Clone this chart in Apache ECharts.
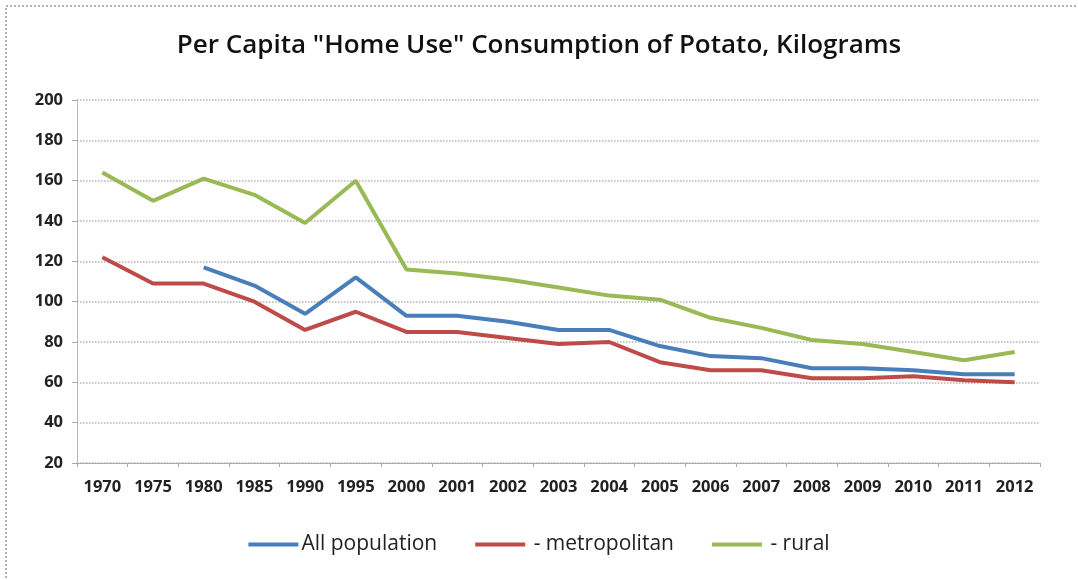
<!DOCTYPE html>
<html><head><meta charset="utf-8">
<script src="https://cdn.jsdelivr.net/npm/echarts@6/dist/echarts.min.js"></script>
<style>html,body{margin:0;padding:0;background:#fff}#c{width:1078px;height:580px}</style>
</head><body><div id="c"></div>
<script>
const years = ['1970','1975','1980','1985','1990','1995','2000','2001','2002','2003','2004','2005','2006','2007','2008','2009','2010','2011','2012'];
const allPopulation = [null,null,117,108,94,112,93,93,90,86,86,78,73,72,67,67,66,64,64];
const metropolitan = [122,109,109,100,86,95,85,85,82,79,80,70,66,66,62,62,63,61,60];
const rural = [164,150,161,153,139,160,116,114,111,107,103,101,92,87,81,79,75,71,75];
const seriesNames = ['All population',' - metropolitan',' - rural'];
const colors = ['#4a7ebb','#be4b48','#98b954'];

const chart = echarts.init(document.getElementById('c'), null, {renderer:'canvas'});
const mk = (name, data, color) => ({
  name, type:'line', data, symbol:'none', connectNulls:false,
  lineStyle:{width:4,color}, itemStyle:{color}
});
chart.setOption({
  animation:false,
  backgroundColor:'#fff',
  graphic:[{type:'rect', shape:{x:6, y:6, width:1080, height:580},
    style:{fill:'none', stroke:'#999', lineWidth:1.5, lineDash:[2,2]}}],
  title:{text:'Per Capita "Home Use" Consumption of Potato, Kilograms', left:'center', top:28,
    textStyle:{fontFamily:'Open Sans', fontSize:26, fontWeight:600, color:'#111'}},
  legend:{bottom:20, left:'center', itemWidth:50, itemHeight:4, itemGap:38, icon:'rect',
    textStyle:{fontFamily:'Open Sans', fontSize:21, color:'#222', padding:[0,0,0,-2]},
    data:seriesNames},
  grid:{left:77, right:38, top:100, bottom:117},
  xAxis:{type:'category', data:years, boundaryGap:true,
    axisLine:{lineStyle:{color:'#aaa'}},
    axisTick:{show:true, length:4, lineStyle:{color:'#aaa'}},
    axisLabel:{fontFamily:'Open Sans', fontWeight:'bold', fontSize:16.5, color:'#222', margin:16}},
  yAxis:{type:'value', min:20, max:200, interval:20,
    axisLine:{show:true, lineStyle:{color:'#aaa', type:'dotted'}},
    axisTick:{show:true, length:5, lineStyle:{color:'#aaa'}},
    axisLabel:{fontFamily:'Open Sans', fontWeight:'bold', fontSize:16.5, color:'#222', margin:14}},
  series:[mk(seriesNames[0], allPopulation, colors[0]), mk(seriesNames[1], metropolitan, colors[1]), mk(seriesNames[2], rural, colors[2])]
});
chart.setOption({yAxis:{splitLine:{lineStyle:{color:'#b5b5b5', type:'dotted', width:1.5}}}});
</script></body></html>
